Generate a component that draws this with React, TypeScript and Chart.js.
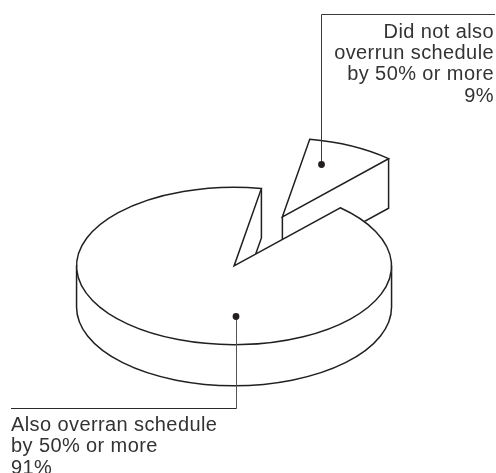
import React, { useEffect, useRef } from "react";
import { Chart, registerables } from "chart.js";

Chart.register(...registerables);

const categories = ["Did not also overrun schedule by 50% or more", "Also overran schedule by 50% or more"];
const values = [9, 91];
const sliceCallout = ["Did not also", "overrun schedule", "by 50% or more", "9%"];
const mainCallout = ["Also overran schedule", "by 50% or more", "91%"];

const SQUASH = 0.5;
const RADIUS = 157.5;
const RIM_DEPTH = 41;
const WEDGE_DEPTH = 49.5;
const STROKE = "#231f20";
const FONT = '20px "Liberation Sans", Arial, sans-serif';

type P = { x: number; y: number };

function geom(arc: any, squash: number, cy0: number) {
  const mid = (arc.startAngle + arc.endAngle) / 2;
  const circ = arc.endAngle - arc.startAngle;
  const off = (arc.options.offset || 0) / 4 + (1 - Math.sin(Math.min(Math.PI, circ)));
  const cx = arc.x + Math.cos(mid) * off;
  const cy = arc.y + Math.sin(mid) * off;
  const toScreen = (x: number, y: number): P => ({ x, y: cy0 + (y - cy0) * squash });
  const at = (a: number) => toScreen(cx + Math.cos(a) * arc.outerRadius, cy + Math.sin(a) * arc.outerRadius);
  return { cx, cy, apex: toScreen(cx, cy), first: at(arc.startAngle), last: at(arc.endAngle) };
}

function poly(ctx: CanvasRenderingContext2D, pts: P[], close: boolean) {
  ctx.beginPath();
  pts.forEach((p, i) => (i ? ctx.lineTo(p.x, p.y) : ctx.moveTo(p.x, p.y)));
  if (close) ctx.closePath();
}

function intersect(a: P, b: P, c: P, d: P): P {
  const r = { x: b.x - a.x, y: b.y - a.y };
  const s = { x: d.x - c.x, y: d.y - c.y };
  const t = ((c.x - a.x) * s.y - (c.y - a.y) * s.x) / (r.x * s.y - r.y * s.x);
  return { x: a.x + r.x * t, y: a.y + r.y * t };
}

const pie3d = {
  id: "pie3d",
  beforeDatasetsDraw(chart: any) {
    const ctx: CanvasRenderingContext2D = chart.ctx;
    const [slice, main] = chart.getDatasetMeta(0).data;
    const cy0 = main.y;
    const s = geom(slice, SQUASH, cy0);
    const m = geom(main, SQUASH, cy0);
    ctx.save();
    ctx.lineWidth = 1.5;
    ctx.strokeStyle = STROKE;
    ctx.fillStyle = "#fff";
    ctx.lineJoin = "miter";

    // wall of the pulled-out slice
    const down = (p: P, d: number): P => ({ x: p.x, y: p.y + d });
    const wall = [s.last, down(s.last, WEDGE_DEPTH), down(s.apex, WEDGE_DEPTH), s.apex];
    poly(ctx, wall, true);
    ctx.fill();
    poly(ctx, wall, false);
    ctx.stroke();

    // outer wall of the main body
    ctx.beginPath();
    ctx.save();
    ctx.translate(0, cy0 + RIM_DEPTH);
    ctx.scale(1, SQUASH);
    ctx.arc(m.cx, m.cy - cy0, RADIUS, 0, Math.PI);
    ctx.restore();
    ctx.lineTo(m.cx - RADIUS, m.apex.y);
    ctx.lineTo(m.cx + RADIUS, m.apex.y);
    ctx.closePath();
    ctx.fill();
    ctx.stroke();

    // inner wall visible inside the gap
    const top = m.last;
    const lower = down(top, WEDGE_DEPTH);
    const q = intersect(lower, { x: lower.x + m.apex.x - top.x, y: lower.y + m.apex.y - top.y }, m.apex, m.first);
    poly(ctx, [m.apex, top, lower, q], true);
    ctx.fill();
    poly(ctx, [top, lower, q], false);
    ctx.stroke();
    ctx.restore();

    // Squash the flat pie faces into ellipses
    ctx.save();
    ctx.translate(0, cy0);
    ctx.scale(1, SQUASH);
    ctx.translate(0, -cy0);
  },
  afterDatasetsDraw(chart: any) {
    const ctx: CanvasRenderingContext2D = chart.ctx;
    ctx.restore();
    const [slice, main] = chart.getDatasetMeta(0).data;
    const cy0 = main.y;

    ctx.save();
    ctx.lineWidth = 1.5;
    ctx.strokeStyle = STROKE;
    ctx.lineJoin = "miter";
    for (const arc of [slice, main]) {
      const g = geom(arc, SQUASH, cy0);
      ctx.beginPath();
      ctx.save();
      ctx.translate(0, cy0);
      ctx.scale(1, SQUASH);
      ctx.translate(0, -cy0);
      ctx.moveTo(g.cx, g.cy);
      ctx.arc(g.cx, g.cy, arc.outerRadius, arc.startAngle, arc.endAngle);
      ctx.closePath();
      ctx.restore();
      ctx.stroke();
    }

    // callout leaders
    const dots: P[] = [
      { x: 321.5, y: 164.5 },
      { x: 236, y: 316.5 },
    ];
    ctx.lineWidth = 1;
    ctx.strokeStyle = "#3a3a3a";
    poly(ctx, [{ x: 495, y: 14.5 }, { x: 321.5, y: 14.5 }, dots[0]], false);
    ctx.stroke();
    ctx.strokeStyle = "#555";
    poly(ctx, [{ x: 236.5, y: 316.5 }, { x: 236.5, y: 408.5 }], false);
    ctx.stroke();
    ctx.strokeStyle = "#2a2a2a";
    poly(ctx, [{ x: 236.5, y: 408.5 }, { x: 11, y: 408.5 }], false);
    ctx.stroke();
    ctx.fillStyle = STROKE;
    for (const d of dots) {
      ctx.beginPath();
      ctx.arc(d.x, d.y, 3.4, 0, Math.PI * 2);
      ctx.fill();
    }

    // callout text
    ctx.font = FONT;
    ctx.fillStyle = "#333";
    ctx.textBaseline = "alphabetic";
    (ctx as any).letterSpacing = "0.4px";
    ctx.textAlign = "right";
    sliceCallout.forEach((t, i) => ctx.fillText(t, 494, 38 + i * 21.2));
    ctx.textAlign = "left";
    mainCallout.forEach((t, i) => ctx.fillText(t, 11, 431 + i * 21.3));
    ctx.restore();
  },
};

export default function App() {
  const ref = useRef<HTMLCanvasElement>(null);
  useEffect(() => {
    document.body.style.margin = "0";
    const chart = new Chart(ref.current!, {
      type: "pie",
      data: {
        labels: categories,
        datasets: [
          {
            data: values,
            backgroundColor: "#fff",
            borderWidth: 0,
            offset: [432, 0],
            clip: false,
          } as any,
        ],
      },
      options: {
        animation: false,
        responsive: false,
        rotation: 10,
        radius: RADIUS,
        cutout: "0%",
        layout: { padding: { left: 0, right: 27, top: 58, bottom: 0 } },
        plugins: { legend: { display: false }, tooltip: { enabled: false } },
      } as any,
      plugins: [pie3d as any],
    });
    return () => chart.destroy();
  }, []);
  return <canvas ref={ref} width={496} height={473} style={{ display: "block" }} />;
}
